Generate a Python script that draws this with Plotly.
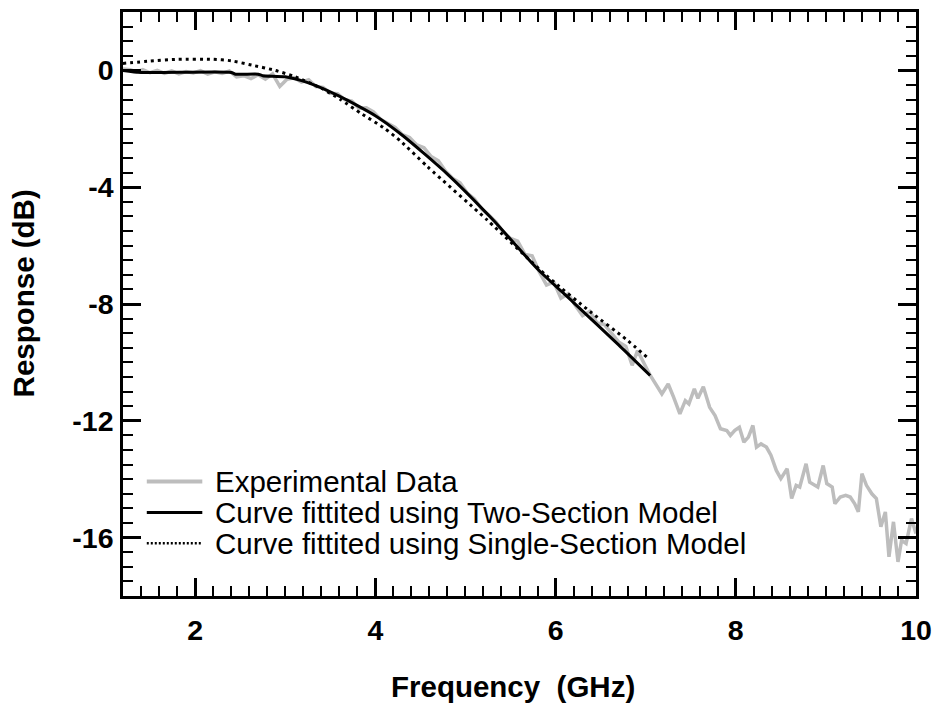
import plotly.graph_objects as go

# Experimental data (GHz, dB)
exp_f = [1.20, 1.28, 1.35, 1.42, 1.50, 1.58, 1.66, 1.74, 1.82, 1.90, 1.98, 2.06, 2.14, 2.22, 2.30, 2.38,
         2.46, 2.54, 2.62, 2.70, 2.78, 2.86, 2.94, 3.02, 3.10, 3.18, 3.26, 3.34, 3.42, 3.50, 3.58, 3.66,
         3.74, 3.82, 3.90, 3.98, 4.06, 4.14, 4.22, 4.30, 4.38, 4.46, 4.54, 4.62, 4.70, 4.78, 4.86, 4.94,
         5.02, 5.10, 5.18, 5.26, 5.34, 5.42, 5.50, 5.58, 5.66, 5.74, 5.82, 5.90, 5.98, 6.06, 6.14, 6.22,
         6.30, 6.38, 6.46, 6.54, 6.62, 6.70, 6.78, 6.85, 6.91, 6.97, 7.05,
         7.18, 7.25, 7.31, 7.38, 7.44, 7.48, 7.54, 7.58, 7.64, 7.71, 7.77, 7.83, 7.90, 7.94, 7.99, 8.04,
         8.09, 8.14, 8.19, 8.23, 8.28, 8.34, 8.39, 8.45, 8.50, 8.57, 8.62, 8.67, 8.71, 8.78, 8.82, 8.87,
         8.91, 8.97, 9.01, 9.07, 9.10, 9.16, 9.22, 9.27, 9.32, 9.36, 9.40, 9.45, 9.51, 9.56, 9.61, 9.66,
         9.70, 9.75, 9.80, 9.84, 9.89, 9.95, 10.0]
exp_db = [0.05, 0.02, -0.05, 0.03, -0.08, 0.00, -0.10, -0.02, -0.12, -0.04, -0.09, -0.01, -0.13, -0.05, -0.10, -0.02,
          -0.22, -0.18, -0.28, -0.15, -0.30, -0.12, -0.55, -0.30, -0.25, -0.40, -0.32, -0.55, -0.58, -0.78, -0.80, -1.00,
          -1.05, -1.30, -1.28, -1.42, -1.68, -1.80, -1.95, -2.20, -2.30, -2.55, -2.65, -2.95, -3.10, -3.45, -3.70, -3.85,
          -4.20, -4.40, -4.75, -4.95, -5.20, -5.55, -5.75, -5.85, -6.30, -6.35, -6.90, -7.35, -7.25, -7.80, -7.65, -8.05,
          -8.40, -8.25, -8.65, -8.70, -9.00, -9.30, -9.45, -10.10, -9.60, -9.95, -10.44,
          -11.08, -10.74, -11.19, -11.76, -11.31, -11.42, -10.91, -11.23, -10.83, -11.54, -11.82, -12.27, -12.33, -12.50, -12.33, -12.22,
          -12.73, -12.56, -12.16, -12.90, -12.79, -12.90, -13.18, -13.70, -13.98, -13.64, -14.66, -14.21, -14.27, -13.47, -14.10, -14.21,
          -14.27, -13.53, -14.15, -14.27, -14.84, -14.61, -14.55, -14.61, -14.84, -15.12, -13.81, -14.21, -14.50, -14.66, -15.63, -15.12,
          -16.66, -15.46, -16.83, -16.09, -16.20, -15.35, -15.86]

# Two-section model fit
two_f = [1.2, 1.4, 2.4, 2.45, 2.7, 2.75, 3.0, 3.25, 3.6, 4.0, 4.3, 4.8, 5.3, 5.8, 6.2, 6.7, 7.05]
two_db = [0.0, -0.07, -0.07, -0.13, -0.13, -0.18, -0.22, -0.42, -0.88, -1.55, -2.22, -3.55, -5.1, -6.8, -7.95, -9.4, -10.45]

# Single-section model fit
one_f = [1.2, 1.5, 1.8, 2.2, 2.4, 2.63, 2.89, 3.11, 3.4, 3.62, 3.84, 4.1, 4.28, 4.58, 5.24, 5.9, 6.4, 6.78, 7.03]
one_db = [0.24, 0.32, 0.38, 0.38, 0.33, 0.18, 0.0, -0.22, -0.61, -1.01, -1.47, -1.98, -2.42, -3.3, -5.12, -7.03, -8.3, -9.2, -9.86]

x_ticks = [2, 4, 6, 8, 10]
y_ticks = [0, -4, -8, -12, -16]

series_names = ["Experimental Data",
                "Curve fittited using Two-Section Model",
                "Curve fittited using Single-Section Model"]
x_title = "Frequency\u00a0\u00a0(GHz)"
y_title = "Response (dB)"

FONT = "Liberation Sans, Arial, sans-serif"
GRAY = "#bdbdbd"
styles = [dict(color=GRAY, width=3.5),
          dict(color="black", width=3),
          dict(color="black", width=3, dash="3px,4px")]
legend_styles = [dict(color=GRAY, width=4),
                 dict(color="black", width=3),
                 dict(color="black", width=2.5, dash="2px,2px")]

fig = go.Figure()
fig.add_trace(go.Scatter(x=exp_f, y=exp_db, mode="lines", name=series_names[0], line=styles[0]))
fig.add_trace(go.Scatter(x=two_f, y=two_db, mode="lines", name=series_names[1],
                         line=dict(**styles[1], shape="spline", smoothing=0.6)))
fig.add_trace(go.Scatter(x=one_f, y=one_db, mode="lines", name=series_names[2],
                         line=dict(**styles[2], shape="spline", smoothing=0.6)))

axis_common = dict(showline=True, linecolor="black", linewidth=2.5, mirror="ticks",
                   ticks="inside", ticklen=18, tickwidth=2.5, tickcolor="black",
                   showgrid=False, zeroline=False,
                   tickfont=dict(family=FONT, size=28.5, color="black", weight="bold"))

fig.update_xaxes(range=[1.2, 10], tickvals=x_ticks, ticktext=[str(v) for v in x_ticks],
                 minor=dict(ticks="inside", ticklen=10, tickwidth=2, tickcolor="black", dtick=0.2, tick0=0, showgrid=False),
                 ticklabelstandoff=7,
                 **axis_common)
fig.update_yaxes(range=[-18, 2], tickvals=y_ticks, ticktext=[str(v) for v in y_ticks],
                 minor=dict(ticks="inside", ticklen=10, tickwidth=2, tickcolor="black", dtick=0.5, tick0=0, showgrid=False),
                 ticklabelstandoff=1,
                 **axis_common)

L, R, T, B = 123, 18, 9, 108
W, H = 941, 704
PW, PH = W - L - R, H - T - B
def px_to_paper(px, py):
    return (px - L) / PW, (H - B - py) / PH

# Axis titles (placed as in the original figure)
tx, ty = px_to_paper(516, 687)
fig.add_annotation(xref="paper", yref="paper", x=tx, y=ty, xanchor="center", yanchor="middle",
                   text=x_title, showarrow=False,
                   font=dict(family=FONT, size=29.5, color="black", weight="bold"))
tx, ty = px_to_paper(23, 292)
fig.add_annotation(xref="paper", yref="paper", x=tx, y=ty, xanchor="center", yanchor="middle",
                   text=y_title, showarrow=False, textangle=-90,
                   font=dict(family=FONT, size=29.5, color="black", weight="bold"))

# Legend drawn inside the plot area (lower left), compact rows like the original
row_y = [481, 512, 543]
for name, st, py in zip(series_names, legend_styles, row_y):
    x0, y0 = px_to_paper(147, py)
    x1, _ = px_to_paper(203, py)
    fig.add_shape(type="line", xref="paper", yref="paper", x0=x0, x1=x1, y0=y0, y1=y0, line=st)
    tx, _ = px_to_paper(214, py)
    fig.add_annotation(xref="paper", yref="paper", x=tx, y=y0, xanchor="left", yanchor="middle",
                       text=name, showarrow=False,
                       font=dict(family=FONT, size=29.5, color="black"))

fig.update_layout(
    width=W, height=H,
    margin=dict(l=L, r=R, t=T, b=B),
    paper_bgcolor="white", plot_bgcolor="white",
    showlegend=False,
)

fig.write_html("out.html")
